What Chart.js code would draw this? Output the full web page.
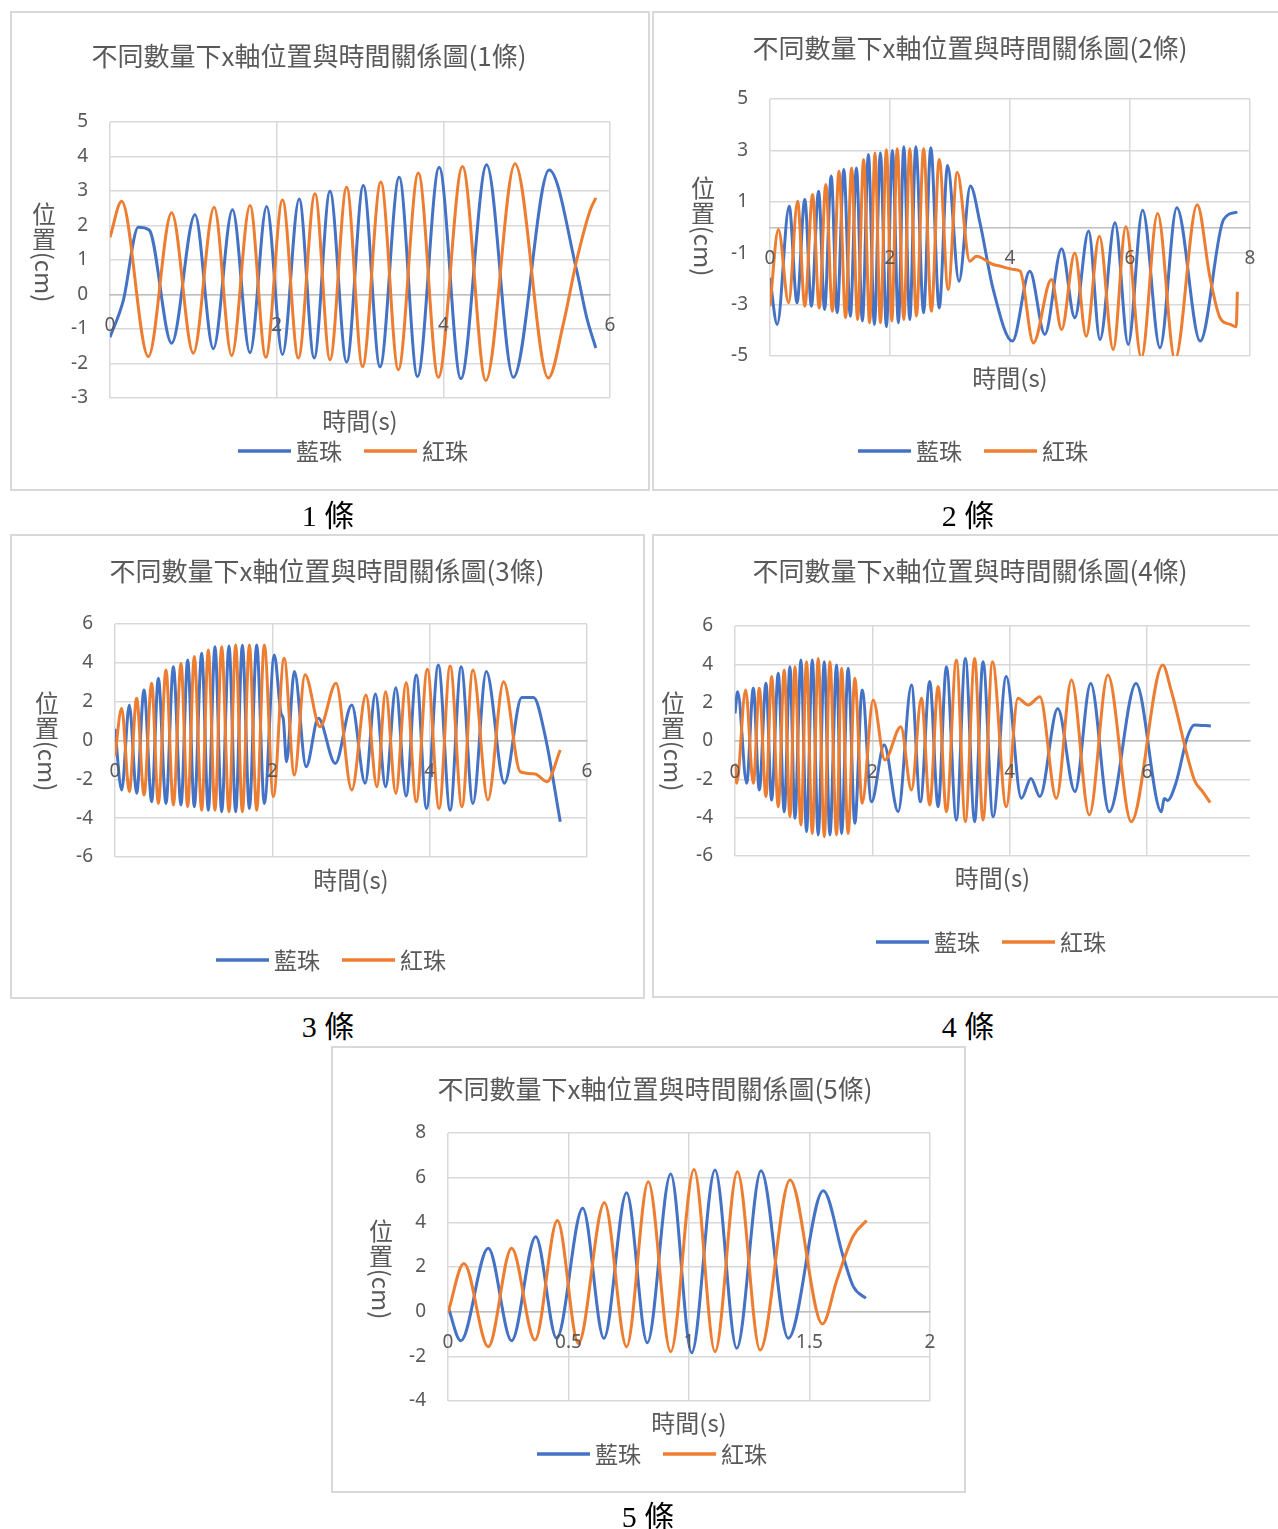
<!DOCTYPE html>
<html lang="zh-Hant">
<head>
<meta charset="UTF-8">
<title>不同數量下x軸位置與時間關係圖</title>
<script src="https://cdn.jsdelivr.net/npm/chart.js@4.4.1/dist/chart.umd.min.js"></script>
<style>
  body { margin: 0; background: #fff; }
  #page { position: relative; width: 1278px; height: 1529px; overflow: hidden; background: #fff; }
  #page canvas { position: absolute; outline: 2px solid #d9d9d9; outline-offset: -2px; }
  .caption {
    position: absolute; transform: translate(-50%, -50%); white-space: nowrap;
    font-family: "Liberation Serif", "Noto Sans CJK TC", serif; font-size: 30px; color: #000;
  }
</style>
</head>
<body>
<div id="page">
  <canvas id="g1" width="640" height="480" style="left:10px;top:11px"></canvas>
  <canvas id="g2" width="628" height="480" style="left:652px;top:11px"></canvas>
  <canvas id="g3" width="635" height="465" style="left:10px;top:534px"></canvas>
  <canvas id="g4" width="628" height="464" style="left:652px;top:534px"></canvas>
  <canvas id="g5" width="635" height="447" style="left:331px;top:1046px"></canvas>
  <div class="caption" style="left:328px;top:513px">1 條</div>
  <div class="caption" style="left:968px;top:513px">2 條</div>
  <div class="caption" style="left:328px;top:1024px">3 條</div>
  <div class="caption" style="left:968px;top:1024px">4 條</div>
  <div class="caption" style="left:648px;top:1514px">5 條</div>
</div>
<script>
// 每組資料: [時間(s), 位置(cm)]
const blue1 = [[0,-1.24],[0.16,-0.17],[0.34,1.95],[0.47,1.87],[0.74,-1.41],[1.02,2.31],[1.24,-1.57],[1.47,2.46],[1.68,-1.69],[1.88,2.55],[2.07,-1.74],[2.27,2.77],[2.45,-1.84],[2.64,2.99],[2.84,-1.96],[3.04,3.16],[3.24,-2.1],[3.47,3.4],[3.69,-2.38],[3.95,3.69],[4.21,-2.44],[4.52,3.76],[4.84,-2.4],[5.27,3.61],[5.6,0.7],[5.72,-0.66],[5.83,-1.55]];
const orange1 = [[0,1.66],[0.14,2.7],[0.46,-1.8],[0.74,2.37],[1.0,-1.7],[1.25,2.53],[1.46,-1.77],[1.68,2.58],[1.87,-1.82],[2.07,2.74],[2.26,-1.84],[2.46,2.92],[2.64,-1.89],[2.84,3.11],[3.03,-2.09],[3.25,3.26],[3.46,-2.18],[3.7,3.52],[3.94,-2.4],[4.23,3.71],[4.51,-2.49],[4.86,3.79],[5.26,-2.42],[5.44,-0.85],[5.6,0.99],[5.76,2.43],[5.83,2.8]];

const blue2 = [[0,-1.96],[0.12,-3.77],[0.32,0.83],[0.45,-2.93],[0.58,1.09],[0.69,-3.06],[0.81,1.41],[0.91,-3.19],[1.02,2.0],[1.12,-3.32],[1.23,2.26],[1.34,-3.45],[1.44,2.32],[1.54,-3.64],[1.64,2.84],[1.74,-3.77],[1.84,2.9],[1.94,-3.86],[2.04,3.0],[2.14,-3.71],[2.23,3.14],[2.33,-3.58],[2.43,3.14],[2.56,-3.32],[2.68,3.1],[2.82,-3.13],[2.96,2.41],[3.15,-2.09],[3.34,1.61],[3.5,0.18],[3.72,-2.41],[4.04,-4.42],[4.33,-1.7],[4.58,-4.16],[4.86,-0.83],[5.08,-3.51],[5.31,-0.14],[5.5,-4.36],[5.75,0.18],[5.97,-4.55],[6.21,0.67],[6.5,-4.68],[6.78,0.77],[7.17,-4.42],[7.56,0.31],[7.79,0.6]];
const orange2 = [[0,-3.06],[0.14,-0.08],[0.31,-2.93],[0.46,1.02],[0.58,-3.06],[0.71,1.28],[0.82,-3.13],[0.93,1.67],[1.04,-3.26],[1.15,2.19],[1.26,-3.51],[1.36,2.32],[1.46,-3.58],[1.56,2.65],[1.66,-3.71],[1.75,2.9],[1.84,-3.71],[1.94,3.03],[2.03,-3.64],[2.12,3.06],[2.23,-3.58],[2.33,3.06],[2.44,-3.45],[2.56,3.06],[2.69,-3.26],[2.82,2.65],[2.97,-2.41],[3.12,2.15],[3.33,-1.31],[3.44,-1.12],[3.72,-1.44],[3.83,-1.5],[4.06,-1.63],[4.17,-1.7],[4.39,-4.49],[4.69,-2.02],[4.86,-3.97],[5.08,-0.99],[5.27,-4.23],[5.49,-0.34],[5.72,-4.75],[5.93,0.03],[6.19,-5.07],[6.46,0.54],[6.75,-5.14],[7.12,0.89],[7.33,-1.9],[7.5,-3.51],[7.67,-3.77],[7.77,-3.86],[7.79,-2.5]];

const blue3 = [[0,0.6],[0.085,-2.55],[0.182,1.83],[0.275,-2.72],[0.369,2.6],[0.466,-3.15],[0.551,3.2],[0.648,-3.24],[0.742,3.8],[0.839,-3.32],[0.924,4.15],[1.008,-3.41],[1.102,4.49],[1.186,-3.59],[1.271,4.83],[1.356,-3.67],[1.449,4.87],[1.534,-3.67],[1.619,4.9],[1.708,-3.5],[1.801,4.92],[1.898,-3.24],[2.025,4.4],[2.11,1.4],[2.14,1.1],[2.18,-1.09],[2.28,3.55],[2.43,-1.35],[2.585,1.14],[2.8,-1.18],[3.01,1.83],[3.18,-2.2],[3.31,2.39],[3.44,-2.38],[3.57,2.72],[3.7,-2.86],[3.83,3.37],[3.96,-3.5],[4.11,3.89],[4.26,-3.59],[4.4,3.8],[4.55,-3.24],[4.72,3.55],[4.95,-2.2],[5.17,2.22],[5.32,2.22],[5.47,0.2],[5.66,-4.18]];
const orange3 = [[0,-0.8],[0.085,1.66],[0.182,-2.63],[0.275,2.17],[0.369,-2.81],[0.466,2.95],[0.551,-3.24],[0.648,3.63],[0.742,-3.32],[0.839,3.97],[0.924,-3.41],[1.008,4.32],[1.102,-3.59],[1.186,4.66],[1.271,-3.59],[1.356,4.83],[1.449,-3.67],[1.534,4.92],[1.619,-3.67],[1.708,4.92],[1.801,-3.59],[1.898,4.92],[2.013,-2.89],[2.15,4.23],[2.28,-1.78],[2.415,3.38],[2.606,0.71],[2.809,2.95],[3.01,-2.55],[3.19,2.34],[3.33,-2.38],[3.44,2.51],[3.57,-2.72],[3.7,2.98],[3.83,-3.15],[3.97,3.67],[4.12,-3.5],[4.26,3.84],[4.41,-3.41],[4.55,3.63],[4.74,-3.06],[4.94,3.03],[5.15,-1.6],[5.34,-1.72],[5.49,-2.12],[5.66,-0.49]];

const blue4 = [[0,1.44],[0.039,2.57],[0.17,-2.2],[0.267,2.75],[0.354,-2.56],[0.451,3.01],[0.533,-3.08],[0.63,3.53],[0.717,-3.69],[0.8,3.87],[0.873,-4.03],[0.96,4.23],[1.042,-4.73],[1.125,4.23],[1.212,-4.9],[1.3,4.14],[1.382,-4.9],[1.479,3.96],[1.552,-4.82],[1.648,3.79],[1.745,-4.29],[1.852,2.66],[1.988,-3.17],[2.172,-0.2],[2.376,-3.69],[2.57,2.92],[2.7,-3.17],[2.836,3.1],[2.958,-3.43],[3.079,3.87],[3.224,-4.12],[3.355,4.31],[3.49,-4.21],[3.612,4.14],[3.758,-3.95],[3.95,3.36],[4.17,-2.99],[4.31,-1.95],[4.44,-2.9],[4.7,1.7],[4.95,-2.64],[5.18,3.0],[5.45,-3.69],[5.84,3.0],[6.21,-3.69],[6.25,-3.0],[6.3,-3.1],[6.42,-2.2],[6.59,0.22],[6.69,0.84],[6.93,0.78]];
const orange4 = [[0,-1.17],[0.024,-2.2],[0.155,2.66],[0.267,-2.2],[0.354,2.75],[0.451,-2.9],[0.533,3.36],[0.63,-3.43],[0.717,3.7],[0.8,-3.95],[0.873,3.87],[0.96,-4.38],[1.042,4.14],[1.125,-4.82],[1.212,4.31],[1.3,-4.99],[1.382,4.14],[1.479,-4.9],[1.552,3.79],[1.648,-4.82],[1.745,3.27],[1.852,-3.25],[2.012,2.14],[2.182,-0.99],[2.415,0.75],[2.57,-2.56],[2.715,2.23],[2.836,-3.34],[2.958,2.84],[3.079,-3.69],[3.224,4.23],[3.355,-4.21],[3.49,4.31],[3.612,-4.12],[3.75,4.14],[3.95,-3.43],[4.12,2.23],[4.27,1.88],[4.44,2.31],[4.68,-2.99],[4.9,3.18],[5.16,-3.86],[5.43,3.44],[5.77,-4.21],[6.23,3.96],[6.35,2.66],[6.69,-2.03],[6.81,-2.64],[6.92,-3.21]];

const blue5 = [[0,0.22],[0.053,-1.3],[0.167,2.84],[0.264,-1.3],[0.364,3.36],[0.451,-1.19],[0.559,4.63],[0.647,-1.19],[0.741,5.33],[0.827,-1.39],[0.924,6.16],[1.011,-1.84],[1.108,6.34],[1.198,-1.64],[1.299,6.31],[1.412,-1.19],[1.557,5.41],[1.64,2.46],[1.682,1.12],[1.734,0.6]];
const orange5 = [[0,-0.04],[0.066,2.16],[0.167,-1.57],[0.264,2.84],[0.361,-1.27],[0.454,4.08],[0.541,-1.42],[0.649,4.88],[0.741,-1.57],[0.831,5.82],[0.924,-1.79],[1.021,6.37],[1.108,-1.79],[1.201,6.27],[1.295,-1.72],[1.419,5.9],[1.554,-0.55],[1.613,1.4],[1.682,3.4],[1.737,4.08]];

// 座標軸範圍 [min, max, step]
const xAxis1 = [0, 6, 2],   yAxis1 = [-3, 5, 1];
const xAxis2 = [0, 8, 2],   yAxis2 = [-5, 5, 2];
const xAxis3 = [0, 6, 2],   yAxis3 = [-6, 6, 2];
const xAxis4 = [0, 7.5, 2], yAxis4 = [-6, 6, 2];
const xAxis5 = [0, 2, 0.5], yAxis5 = [-4, 8, 2];

const seriesNames = ['藍珠', '紅珠'];
const BLUE = '#4472C4';
const ORANGE = '#ED7D31';
const GREY = '#595959';
const CJK = '"Noto Sans CJK TC", "Noto Sans", sans-serif';
const NUM = '"Noto Sans", "Noto Sans CJK TC", sans-serif';
const Y_AXIS_W = 60;

// 標題、座標軸標題與圖例自己畫 (Excel 樣式的位置)
const excelText = {
  id: 'excelText',
  afterDraw(chart, args, o) {
    const ctx = chart.ctx;
    const a = chart.chartArea;
    const dx = o.offset[0], dy = o.offset[1];
    ctx.save();
    ctx.fillStyle = GREY;
    ctx.textAlign = 'center';
    ctx.textBaseline = 'middle';

    ctx.font = `26px ${CJK}`;
    ctx.fillText(o.title, o.titlePos[0] - dx, o.titlePos[1] - dy);

    ctx.font = `24px ${CJK}`;
    ctx.fillText('時間(s)', (a.left + a.right) / 2, o.xTitleY - dy);

    // 直書: 位、置 正立, (cm) 轉 90 度
    const pitch = 25;
    const cmW = ctx.measureText('(cm)').width;
    const total = pitch * 2 + cmW;
    const yx = o.yTitlePos[0] - dx;
    let yy = o.yTitlePos[1] - dy - total / 2;
    ctx.fillText('位', yx, yy + pitch / 2);
    ctx.fillText('置', yx, yy + pitch * 1.5);
    ctx.save();
    ctx.translate(yx, yy + pitch * 2);
    ctx.rotate(Math.PI / 2);
    ctx.textAlign = 'left';
    ctx.fillText('(cm)', 0, 0);
    ctx.restore();

    // 圖例
    ctx.font = `23px ${CJK}`;
    const lineLen = 53, gap = 5, spacing = 22;
    const items = chart.data.datasets.map(d => ({ label: d.label, color: d.borderColor, w: ctx.measureText(d.label).width }));
    const width = items.reduce((s, it) => s + lineLen + gap + it.w, 0) + spacing * (items.length - 1);
    let lx = o.legendPos[0] - dx - width / 2;
    const ly = o.legendPos[1] - dy;
    ctx.textAlign = 'left';
    items.forEach(it => {
      ctx.strokeStyle = it.color;
      ctx.lineWidth = 3.5;
      ctx.beginPath();
      ctx.moveTo(lx, ly);
      ctx.lineTo(lx + lineLen, ly);
      ctx.stroke();
      ctx.fillText(it.label, lx + lineLen + gap, ly);
      lx += lineLen + gap + it.w + spacing;
    });
    ctx.restore();
  }
};

function toPoints(list) {
  return list.map(p => ({ x: p[0], y: p[1] }));
}

function drawChart(id, cfg) {
  const canvas = document.getElementById(id);
  const L = canvas.offsetLeft, T = canvas.offsetTop;
  const W = canvas.width, H = canvas.height;
  const area = cfg.area; // [left, top, right, bottom] on the page
  const tickFont = { family: NUM, size: 19 };

  const line = (label, pts, color, order) => ({
    label, data: toPoints(pts), borderColor: color, backgroundColor: color,
    borderWidth: 3, pointRadius: 0, cubicInterpolationMode: 'monotone', order
  });

  return new Chart(canvas, {
    type: 'line',
    data: {
      datasets: [
        line(seriesNames[0], cfg.blue, BLUE, 2),
        line(seriesNames[1], cfg.orange, ORANGE, 1)
      ]
    },
    options: {
      responsive: false,
      devicePixelRatio: 1,
      animation: false,
      layout: {
        padding: {
          left: area[0] - L - Y_AXIS_W,
          top: area[1] - T,
          right: L + W - area[2],
          bottom: T + H - area[3]
        }
      },
      plugins: {
        legend: { display: false },
        title: { display: false },
        tooltip: { enabled: false },
        excelText: {
          offset: [L, T],
          title: cfg.title,
          titlePos: cfg.titlePos,
          xTitleY: cfg.xTitleY,
          yTitlePos: cfg.yTitlePos,
          legendPos: cfg.legendPos
        }
      },
      scales: {
        x: {
          type: 'linear',
          position: { y: 0 },
          min: cfg.x[0], max: cfg.x[1],
          ticks: {
            stepSize: cfg.x[2], color: GREY, font: tickFont, padding: 20, z: 1, maxRotation: 0, autoSkip: false,
            callback: v => String(v)
          },
          grid: { color: '#d9d9d9', lineWidth: 1.5, drawTicks: false },
          border: { color: '#bfbfbf', width: 1.5 },
          afterBuildTicks: s => {
            s.ticks = s.ticks.filter(t => Math.abs(t.value / cfg.x[2] - Math.round(t.value / cfg.x[2])) < 1e-6);
          }
        },
        y: {
          type: 'linear',
          min: cfg.y[0], max: cfg.y[1],
          ticks: { stepSize: cfg.y[2], color: GREY, font: tickFont, padding: 22, callback: v => String(v) },
          grid: { color: '#d9d9d9', lineWidth: 1.5, drawTicks: false },
          border: { display: false },
          afterFit: s => { s.width = Y_AXIS_W; }
        }
      }
    },
    plugins: [excelText]
  });
}

drawChart('g1', {
  title: '不同數量下x軸位置與時間關係圖(1條)', blue: blue1, orange: orange1, x: xAxis1, y: yAxis1,
  area: [110, 122, 610, 398], titlePos: [309, 56], xTitleY: 421, yTitlePos: [44, 252], legendPos: [353, 451]
});
drawChart('g2', {
  title: '不同數量下x軸位置與時間關係圖(2條)', blue: blue2, orange: orange2, x: xAxis2, y: yAxis2,
  area: [770, 99, 1250, 356], titlePos: [970, 48], xTitleY: 378, yTitlePos: [703, 226], legendPos: [973, 451]
});
drawChart('g3', {
  title: '不同數量下x軸位置與時間關係圖(3條)', blue: blue3, orange: orange3, x: xAxis3, y: yAxis3,
  area: [115, 624, 587, 857], titlePos: [327, 571], xTitleY: 880, yTitlePos: [47, 741], legendPos: [331, 960]
});
drawChart('g4', {
  title: '不同數量下x軸位置與時間關係圖(4條)', blue: blue4, orange: orange4, x: xAxis4, y: yAxis4,
  area: [735, 626, 1250, 856], titlePos: [970, 571], xTitleY: 878, yTitlePos: [673, 741], legendPos: [991, 942]
});
drawChart('g5', {
  title: '不同數量下x軸位置與時間關係圖(5條)', blue: blue5, orange: orange5, x: xAxis5, y: yAxis5,
  area: [448, 1133, 930, 1401], titlePos: [655, 1089], xTitleY: 1423, yTitlePos: [381, 1269], legendPos: [652, 1454]
});
</script>
</body>
</html>
